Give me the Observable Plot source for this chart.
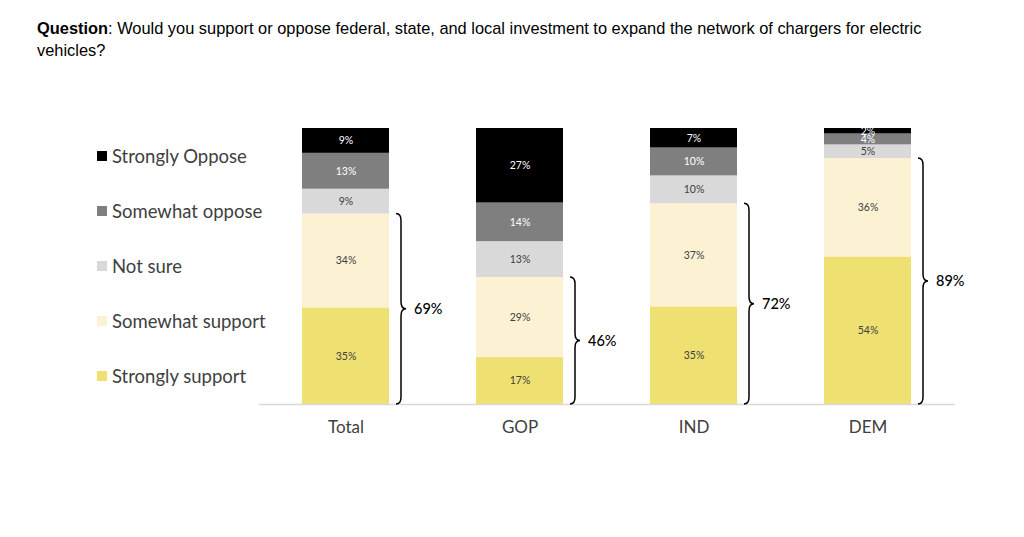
<!DOCTYPE html>
<html>
<head>
<meta charset="utf-8">
<script src="https://cdn.jsdelivr.net/npm/d3@7"></script>
<script src="https://cdn.jsdelivr.net/npm/@observablehq/plot@0.6"></script>
<style>
  html, body { margin: 0; padding: 0; background: #fff; }
  #wrap { position: relative; width: 1024px; height: 537px; overflow: hidden; }
  #title { position: absolute; left: 37px; top: 17px; font-family: "Liberation Sans", Arial, sans-serif; font-size: 16.4px; line-height: 22px; color: #000; white-space: nowrap; }
  #chart { position: absolute; left: 0; top: 62px; }
  #legend { position: absolute; left: 97px; top: 143px; font-family: Lato, "Open Sans", sans-serif; font-size: 18.5px; color: #404040; }
  #legend .item { display: flex; align-items: center; height: 26px; margin-bottom: 29px; }
  #legend .sw { width: 10px; height: 10px; margin-right: 5px; }
</style>
</head>
<body>
<div id="wrap">
  <div id="title"><b>Question</b>: Would you support or oppose federal, state, and local investment to expand the network of chargers for electric<br>vehicles?</div>
  <div id="legend"></div>
  <div id="chart"></div>
</div>
<script>
const groups = ["Total", "GOP", "IND", "DEM"];
const responses = ["Strongly support", "Somewhat support", "Not sure", "Somewhat oppose", "Strongly Oppose"];
const legendOrder = ["Strongly Oppose", "Somewhat oppose", "Not sure", "Somewhat support", "Strongly support"];
const colors = ["#efe072", "#fcf1d2", "#d9d9d9", "#7f7f7f", "#000000"];
const labelColors = ["#404040", "#404040", "#404040", "#ffffff", "#ffffff"];

const stronglySupport = [35, 17, 35, 54];
const somewhatSupport = [34, 29, 37, 36];
const notSure = [9, 13, 10, 5];
const somewhatOppose = [13, 14, 10, 4];
const stronglyOppose = [9, 27, 7, 2];
const supportNet = [69, 46, 72, 89];

const series = [stronglySupport, somewhatSupport, notSure, somewhatOppose, stronglyOppose];

const rows = [];
groups.forEach((g, i) => {
  responses.forEach((r, j) => rows.push({group: g, response: r, value: series[j][i]}));
});

const braces = groups.map((g, i) => {
  const total = series.reduce((s, arr) => s + arr[i], 0);
  return {group: g, top: (stronglySupport[i] + somewhatSupport[i]) / total, net: supportNet[i]};
});

// legend (HTML)
const legend = document.getElementById("legend");
legendOrder.forEach(r => {
  const item = document.createElement("div");
  item.className = "item";
  const sw = document.createElement("div");
  sw.className = "sw";
  sw.style.background = colors[responses.indexOf(r)];
  const t = document.createElement("span");
  t.textContent = r;
  item.appendChild(sw); item.appendChild(t);
  legend.appendChild(item);
});

const stackOpts = {x: "group", y: "value", z: "response", order: responses, offset: "normalize"};

function braceRender(index, scales, values, dimensions) {
  const x = scales.x, y = scales.y;
  const bw = x.bandwidth ? x.bandwidth() : 87;
  const g = d3.create("svg:g").attr("fill", "none").attr("stroke", "#000").attr("stroke-width", 1.5);
  for (const i of index) {
    const d = braces[i];
    const x0 = x(d.group) + bw + 7;
    const y0 = y(d.top), y1 = y(0);
    const ym = (y0 + y1) / 2;
    const xm = x0 + 5, xt = x0 + 10, r = 7;
    const p = `M${x0},${y0} Q${xm},${y0} ${xm},${y0 + r} L${xm},${ym - r} Q${xm},${ym} ${xt},${ym} Q${xm},${ym} ${xm},${ym + r} L${xm},${y1 - r} Q${xm},${y1} ${x0},${y1}`;
    g.append("path").attr("d", p);
  }
  return g.node();
}

const chart = Plot.plot({
  width: 1024,
  height: 475,
  marginTop: 66,
  marginBottom: 133,
  marginLeft: 214.5,
  marginRight: 26.5,
  style: {fontFamily: "Lato, 'Open Sans', sans-serif", background: "transparent"},
  x: {domain: groups, padding: 0.5, label: null},
  y: {domain: [0, 1], axis: null},
  color: {domain: responses, range: colors},
  marks: [
    Plot.barY(rows, Plot.stackY({...stackOpts, fill: "response"})),
    Plot.ruleY([0], {stroke: "#d9d9d9", strokeWidth: 1.5, insetLeft: 44.5, insetRight: 42.5}),
    Plot.text(rows, Plot.stackY({...stackOpts, text: d => d.value + "%", fill: d => labelColors[responses.indexOf(d.response)], fontSize: 10.5})),
    Plot.ruleX(braces, {x: "group", render: braceRender}),
    Plot.text(braces, {x: "group", y: d => d.top / 2, text: d => d.net + "%", dx: 68, textAnchor: "start", fontSize: 14.5, fontWeight: 500, fill: "#000"}),
    Plot.axisX({tickSize: 0, tickPadding: 16, fontSize: 17, color: "#404040", label: null})
  ]
});
document.getElementById("chart").appendChild(chart);
</script>
</body>
</html>
